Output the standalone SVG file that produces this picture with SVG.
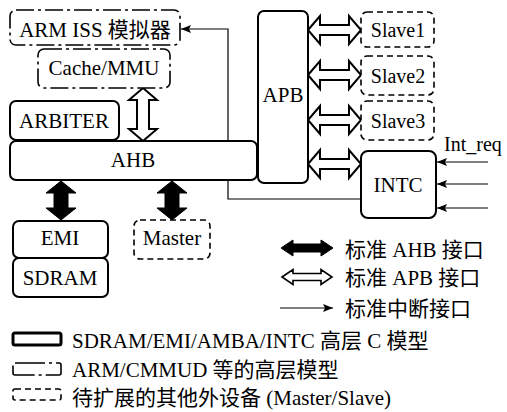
<svg xmlns="http://www.w3.org/2000/svg" width="507" height="412" viewBox="0 0 507 412">
<style>
text{font-family:"Liberation Serif","Noto Sans CJK SC",serif;font-size:21px;fill:#000}
.c{text-anchor:middle}
.solid{fill:#fff;stroke:#000;stroke-width:2}
.dd{fill:#fff;stroke:#000;stroke-width:1.6;stroke-dasharray:18 4 3 4}
.da{fill:#fff;stroke:#000;stroke-width:1.6;stroke-dasharray:6 4}
.open{fill:#fff;stroke:#000;stroke-width:2;stroke-linejoin:miter}
.fill{fill:#000;stroke:#000;stroke-width:1}
.ln{fill:none;stroke:#000;stroke-width:1.2}
</style>
<defs>
<marker id="ah" viewBox="0 0 10 8" refX="10" refY="4" markerWidth="10" markerHeight="8" markerUnits="userSpaceOnUse" orient="auto">
<path d="M0,0 L10,4 L0,8 L2,4 Z" fill="#000"/>
</marker>
</defs>
<g id="connectors">
<path class="ln" d="M360,199 L228,199 L228,29 L181,29" marker-end="url(#ah)"/>
<path class="ln" d="M488,162 L437,162" marker-end="url(#ah)"/>
<path class="ln" d="M488,184 L437,184" marker-end="url(#ah)"/>
<path class="ln" d="M488,208 L437,208" marker-end="url(#ah)"/>
<path class="open" d="M143,88 L157,100 L149,100 L149,129 L157,129 L143,141 L129,129 L137,129 L137,100 L129,100 Z"/>
<path class="open" d="M308,30 L320,16 L320,25 L349,25 L349,16 L361,30 L349,44 L349,35 L320,35 L320,44 Z"/>
<path class="open" d="M308,75 L320,61 L320,70 L349,70 L349,61 L361,75 L349,89 L349,80 L320,80 L320,89 Z"/>
<path class="open" d="M308,120 L320,106 L320,115 L349,115 L349,106 L361,120 L349,134 L349,125 L320,125 L320,134 Z"/>
<path class="open" d="M308,164 L320,150 L320,159 L349,159 L349,150 L361,164 L349,178 L349,169 L320,169 L320,178 Z"/>
<path class="fill" d="M61,181 L76,193 L68,193 L68,208 L76,208 L61,220 L46,208 L54,208 L54,193 L46,193 Z"/>
<path class="fill" d="M172,181 L187,193 L179,193 L179,208 L187,208 L172,220 L157,208 L165,208 L165,193 L157,193 Z"/>
</g>
<g id="arm-iss"><rect class="dd" x="10" y="10" width="170" height="35" rx="6"/><text class="c" x="95" y="37">ARM ISS 模拟器</text></g>
<g id="cache-mmu"><rect class="dd" x="38" y="49" width="132" height="39" rx="6"/><text class="c" x="104" y="75">Cache/MMU</text></g>
<g id="arbiter"><rect class="solid" x="10" y="101" width="109" height="39" rx="6"/><text class="c" x="64" y="128">ARBITER</text></g>
<g id="ahb"><rect class="solid" x="10" y="141" width="247" height="39" rx="6"/><text class="c" x="133" y="167">AHB</text></g>
<g id="apb"><rect class="solid" x="258" y="11" width="50" height="172" rx="6"/><text class="c" x="283" y="102">APB</text></g>
<g id="slave1"><rect class="da" x="361" y="12" width="73" height="35" rx="6"/><text class="c" x="398" y="37" style="font-size:20px">Slave1</text></g>
<g id="slave2"><rect class="da" x="361" y="56" width="73" height="39" rx="6"/><text class="c" x="398" y="83" style="font-size:20px">Slave2</text></g>
<g id="slave3"><rect class="da" x="361" y="101" width="73" height="39" rx="6"/><text class="c" x="398" y="128" style="font-size:20px">Slave3</text></g>
<g id="intc"><rect class="solid" x="361" y="151" width="75" height="67" rx="7"/><text class="c" x="398" y="192">INTC</text></g>
<g id="int-req"><text x="444" y="151" style="font-size:20px">Int_req</text></g>
<g id="emi"><rect class="solid" x="13" y="221" width="95" height="37" rx="6"/><text class="c" x="60" y="245">EMI</text></g>
<g id="sdram"><rect class="solid" x="13" y="258" width="95" height="39" rx="6"/><text class="c" x="60" y="285">SDRAM</text></g>
<g id="master"><rect class="da" x="134" y="220" width="76" height="39" rx="6"/><text class="c" x="172" y="245">Master</text></g>
<g id="legend">
<path class="fill" d="M281,248 L293,240 L293,244 L321,244 L321,240 L333,248 L321,256 L321,252 L293,252 L293,256 Z"/>
<text x="345" y="257">标准 AHB 接口</text>
<path class="open" d="M282,277 L293,269.5 L293,273.5 L321,273.5 L321,269.5 L332,277 L321,284.5 L321,280.5 L293,280.5 L293,284.5 Z" style="stroke-width:1.6"/>
<text x="345" y="285">标准 APB 接口</text>
<path class="ln" d="M280,308 L333,308" marker-end="url(#ah)"/>
<text x="345" y="316">标准中断接口</text>
<rect x="13" y="333" width="48" height="12" rx="2" fill="#fff" stroke="#000" stroke-width="3"/>
<text x="72" y="348">SDRAM/EMI/AMBA/INTC 高层 C 模型</text>
<rect x="13" y="363" width="48" height="12" rx="2" fill="#fff" stroke="#000" stroke-width="1.6" stroke-dasharray="30 4 3 4"/>
<text x="72" y="377">ARM/CMMUD 等的高层模型</text>
<rect x="13" y="389" width="48" height="11" rx="2" fill="#fff" stroke="#000" stroke-width="1.6" stroke-dasharray="6 4"/>
<text x="72" y="405">待扩展的其他外设备 (Master/Slave)</text>
</g>
</svg>
